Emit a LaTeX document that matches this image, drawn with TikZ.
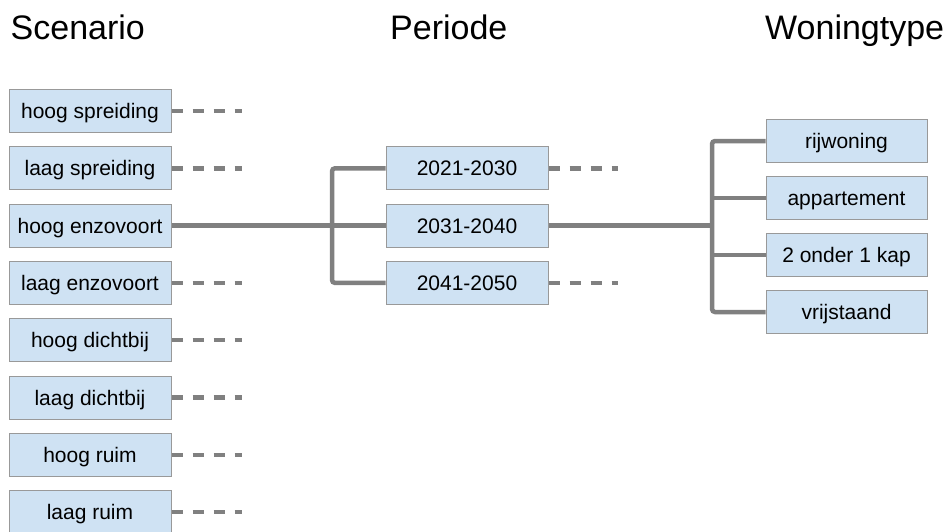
\documentclass[tikz,border=0pt]{standalone}
\usepackage{fontspec}
\setmainfont{Liberation Sans}
\usepackage{xcolor}
\definecolor{vakfill}{HTML}{CFE2F3}
\definecolor{vakrand}{HTML}{999999}
\definecolor{lijngrijs}{HTML}{808080}
\tikzset{
  vak/.style={draw=vakrand,fill=vakfill,line width=1pt,inner sep=0pt,
    text height=15pt,text depth=0pt,
    minimum width=162pt,minimum height=43pt,font=\fontsize{21}{25}\selectfont},
  kop/.style={anchor=base west,inner sep=0pt,font=\fontsize{34}{40}\selectfont},
  tak/.style={lijngrijs,line width=4.5pt,rounded corners=3pt},
  los/.style={lijngrijs,line width=4.5pt,dash pattern=on 11pt off 10pt}
}
\begin{document}
\begin{tikzpicture}[x=1pt, y=-1pt]
\useasboundingbox (0,0) rectangle (948,531);
\node[kop] (hscen) at (10.5,39) {Scenario};
\node[kop] (hper) at (390,39) {Periode};
\node[kop] (htype) at (765,39) {Woningtype};

% scenario's
\foreach \lbl [count=\i] in {hoog spreiding,laag spreiding,hoog enzovoort,
  laag enzovoort,hoog dichtbij,laag dichtbij,hoog ruim,laag ruim}
{
  \node[vak] (sc\i) at (90,{111+57.3*(\i-1)}) {\lbl};
}
% periodes
\foreach \lbl [count=\i] in {2021-2030,2031-2040,2041-2050}
{
  \node[vak] (per\i) at (467,{168.3+57.3*(\i-1)}) {\lbl};
}
% woningtypes
\foreach \lbl [count=\i] in {rijwoning,appartement,2 onder 1 kap,vrijstaand}
{
  \node[vak,minimum width=161pt] (typ\i) at (846.5,{141+57*(\i-1)}) {\lbl};
}

\foreach \i in {1,2,4,5,6,7,8}
  \draw[los] (sc\i.east) -- ++(70,0);
\draw[los] (per1.east) -- ++(69,0);
\draw[los] (per3.east) -- ++(69,0);

\coordinate (splitper) at (332,0);
\coordinate (splittyp) at (712,0);
\draw[tak] (sc3.east) -- (per2.west);
\draw[tak] (per1.west) -| (splitper |- per2) |- (per3.west);
\draw[tak] (per2.east) -- (splittyp |- per2);
\draw[tak] (typ1.west) -| (splittyp |- per2) |- (typ4.west);
\draw[tak] (typ2.west) -- (splittyp |- typ2);
\draw[tak] (typ3.west) -- (splittyp |- typ3);
\end{tikzpicture}
\end{document}
